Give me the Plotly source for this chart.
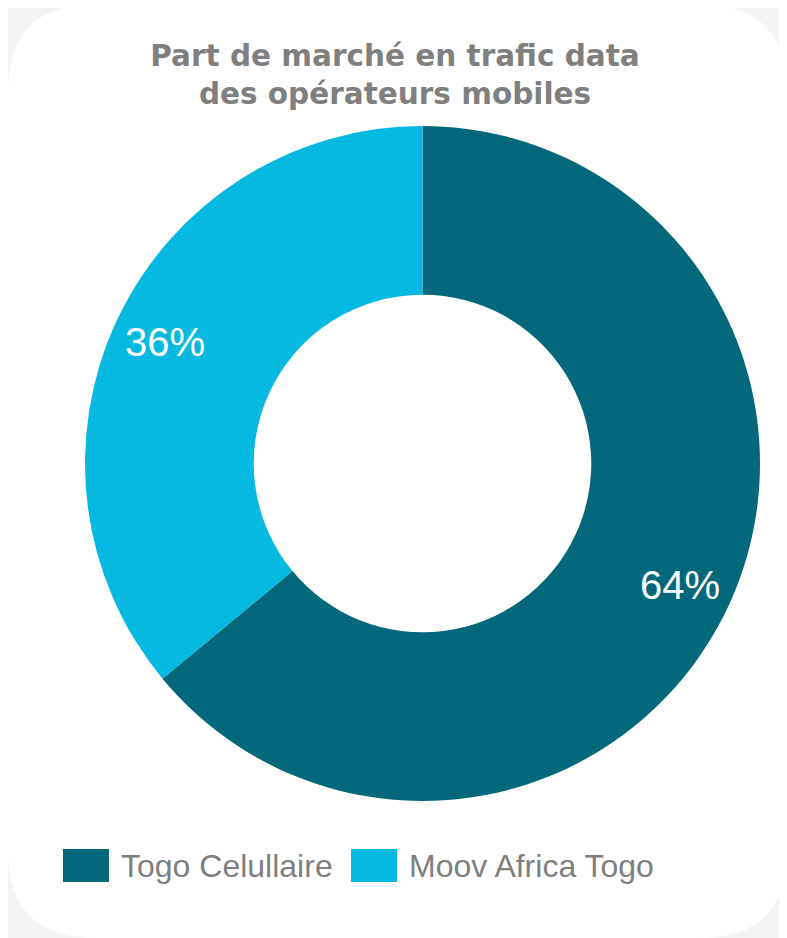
import math
import plotly.graph_objects as go

# ---- data ----
operators = ["Togo Celullaire", "Moov Africa Togo"]
shares = [64, 36]
colors = ["#03687B", "#05B9E0"]
title_lines = ["Part de marché en trafic data", "des opérateurs mobiles"]

# ---- geometry (pixels, figure coordinates; page adds an 8px body margin) ----
W, H = 787, 938
OFF = 8
cx, cy, R = 422.5 - OFF, 463.5 - OFF, 337.5
hole = 0.5
label_r = 285.0


def px_(x):
    return x / W


def py_(y):
    return 1 - y / H


fig = go.Figure(
    go.Pie(
        labels=operators,
        values=shares,
        hole=hole,
        sort=False,
        direction="clockwise",
        rotation=0,
        marker=dict(colors=colors, line=dict(width=0)),
        textinfo="none",
        hoverinfo="label+percent",
        showlegend=False,
        domain=dict(x=[px_(cx - R), px_(cx + R)],
                    y=[py_(cy + R), py_(cy - R)]),
    )
)

# percentage labels placed at slice mid-angles
annotations = []
total = sum(shares)
cum = 0
for v in shares:
    mid = (cum + v / 2) / total * 2 * math.pi
    lx = cx + label_r * math.sin(mid)
    ly = cy - label_r * math.cos(mid)
    annotations.append(dict(
        x=px_(lx), y=py_(ly), xref="paper", yref="paper",
        text=f"{round(v / total * 100)}%", showarrow=False,
        font=dict(family="Liberation Sans, Arial", size=40, color="white"),
        xanchor="center", yanchor="middle"))
    cum += v

shapes = []
# rounded white card
x0, y0, x1, y1 = 8 - OFF, 4 - OFF, 787 - OFF, 938 - OFF
rad = 88
path = (f"M {px_(x0 + rad)},{py_(y0)} L {px_(x1 - rad)},{py_(y0)} "
        f"Q {px_(x1)},{py_(y0)} {px_(x1)},{py_(y0 + rad)} "
        f"L {px_(x1)},{py_(y1 - rad)} Q {px_(x1)},{py_(y1)} {px_(x1 - rad)},{py_(y1)} "
        f"L {px_(x0 + rad)},{py_(y1)} Q {px_(x0)},{py_(y1)} {px_(x0)},{py_(y1 - rad)} "
        f"L {px_(x0)},{py_(y0 + rad)} Q {px_(x0)},{py_(y0)} {px_(x0 + rad)},{py_(y0)} Z")
shapes.append(dict(type="path", path=path, xref="paper", yref="paper",
                   fillcolor="white", line=dict(width=0), layer="below"))

# custom legend (large square swatches)
leg_sq_x = [63 - OFF, 351 - OFF]
leg_y0, leg_y1 = 849 - OFF, 882 - OFF
for name, col, sx in zip(operators, colors, leg_sq_x):
    shapes.append(dict(type="rect", xref="paper", yref="paper",
                       x0=px_(sx), x1=px_(sx + 46), y0=py_(leg_y1), y1=py_(leg_y0),
                       fillcolor=col, line=dict(width=0)))
    annotations.append(dict(
        x=px_(sx + 56), y=py_((leg_y0 + leg_y1) / 2), xref="paper", yref="paper",
        text=name, showarrow=False, xanchor="left", yanchor="middle",
        font=dict(family="Liberation Sans, Arial", size=32, color="#7F7F7F")))

fig.update_layout(
    width=W, height=H,
    margin=dict(l=0, r=0, t=0, b=0),
    paper_bgcolor="#F4F4F4",
    plot_bgcolor="#F4F4F4",
    title=dict(text="<b>" + "<br>".join(title_lines) + "</b>",
               x=px_(395 - OFF), xanchor="center", y=py_(66 - OFF), yanchor="middle",
               font=dict(family="DejaVu Sans, sans-serif", size=29.5, color="#7F7F7F")),
    shapes=shapes,
    annotations=annotations,
)

fig.write_html("out.html")
